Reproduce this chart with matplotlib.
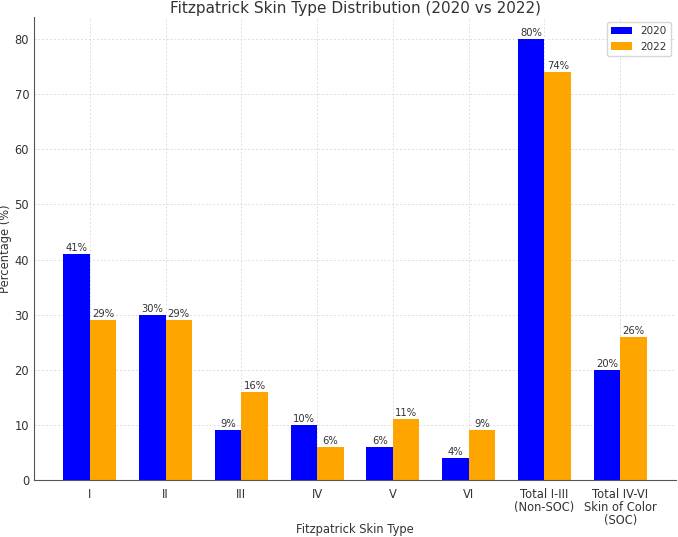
import numpy as np
import matplotlib.pyplot as plt

categories = ['I', 'II', 'III', 'IV', 'V', 'VI', 'Total I-III\n(Non-SOC)', 'Total IV-VI\nSkin of Color\n(SOC)']
vals_2020 = [41, 30, 9, 10, 6, 4, 80, 20]
vals_2022 = [29, 29, 16, 6, 11, 9, 74, 26]

txt = '#333333'
plt.rcParams['text.color'] = txt
plt.rcParams['axes.labelcolor'] = txt
plt.rcParams['xtick.color'] = txt
plt.rcParams['ytick.color'] = txt

fig = plt.figure(figsize=(6.78, 5.37), dpi=100)
ax = fig.add_axes([34/678, 57/537, 642/678, 463/537])

x = np.arange(len(categories))
w = 0.35
b1 = ax.bar(x - w/2, vals_2020, w, color='blue', label='2020', zorder=2)
b2 = ax.bar(x + w/2, vals_2022, w, color='orange', label='2022', zorder=2)

for bars in (b1, b2):
    for b in bars:
        ax.text(b.get_x() + b.get_width()/2, b.get_height() + 0.2, f'{int(b.get_height())}%',
                ha='center', va='bottom', fontsize=7.2, color=txt)

ax.set_xticks(x)
ax.set_xticklabels(categories, fontsize=8.3, linespacing=1.0)
ax.tick_params(axis='y', labelsize=8.3)
ax.tick_params(axis='x', pad=6)
ax.tick_params(length=0)
ax.set_xlabel('Fitzpatrick Skin Type', fontsize=8.3)
ax.xaxis.set_label_coords(0.5, -0.092)
ax.set_ylabel('Percentage (%)', fontsize=8.3, labelpad=2)
ax.set_title('Fitzpatrick Skin Type Distribution (2020 vs 2022)', fontsize=11, pad=3)
ax.grid(True, linestyle=(0, (2, 2)), color='#dddddd', linewidth=0.7, zorder=0)
ax.set_axisbelow(True)
for s in ('top', 'right'):
    ax.spines[s].set_visible(False)
for s in ('left', 'bottom'):
    ax.spines[s].set_color('#555555')
ax.legend(fontsize=7.5, loc='upper right', edgecolor='#cccccc')

fig.savefig('out.png', dpi=100)
